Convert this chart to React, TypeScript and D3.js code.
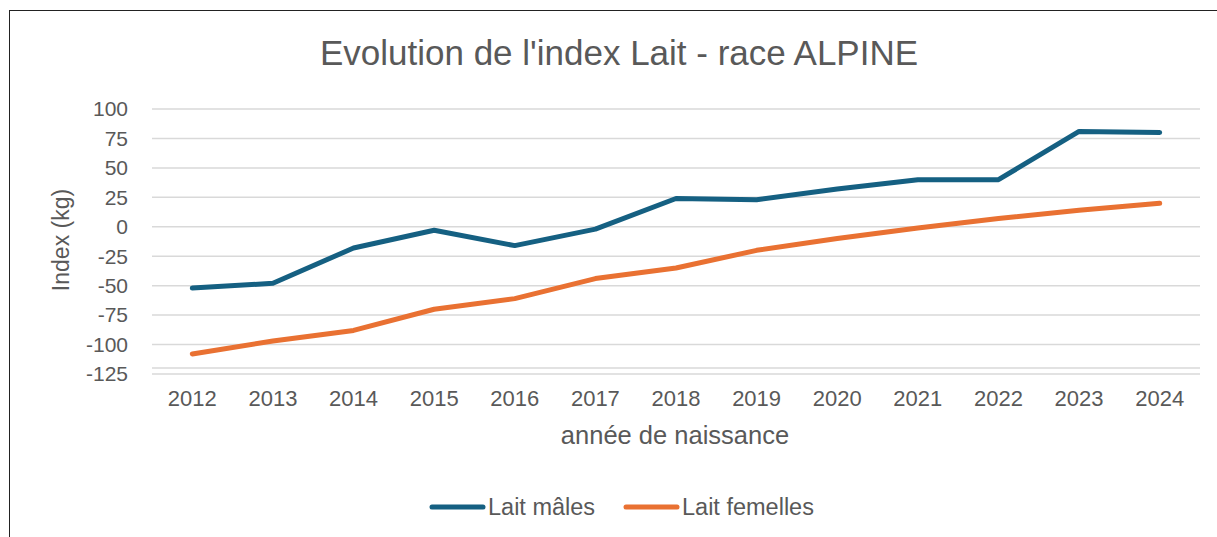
import * as d3 from "d3";

const years = ["2012", "2013", "2014", "2015", "2016", "2017", "2018", "2019", "2020", "2021", "2022", "2023", "2024"];
const laitMales = [-52, -48, -18, -3, -16, -2, 24, 23, 32, 40, 40, 81, 80];
const laitFemelles = [-108, -97, -88, -70, -61, -44, -35, -20, -10, -1, 7, 14, 20];
const yTicks = [100, 75, 50, 25, 0, -25, -50, -75, -100, -125];
const axisCross = -120;

const seriesList = [
  { name: "Lait mâles", values: laitMales, color: "#156082" },
  { name: "Lait femelles", values: laitFemelles, color: "#E97132" },
];

const width = 1217;
const height = 537;
const marginLeft = 152;
const marginRight = 17;
const font = "'Liberation Sans', Arial, sans-serif";
const textColor = "#595959";

export default function App() {
  const x = d3.scaleBand<string>().domain(years).range([marginLeft, width - marginRight]);
  const y = d3.scaleLinear().domain([-125, 100]).range([374, 109]);

  const line = d3
    .line<number>()
    .x((d, i) => x(years[i])! + x.bandwidth() / 2)
    .y((d) => y(d));

  return (
    <svg
      width={width}
      height={height}
      style={{ position: "absolute", left: 0, top: 0, background: "#fff" }}
      fontFamily={font}
    >
      {/* chart frame */}
      <line x1={9} x2={width} y1={10.5} y2={10.5} stroke="#222" strokeWidth={1} />
      <line x1={9.5} x2={9.5} y1={10} y2={height} stroke="#222" strokeWidth={1} />

      <text x={619} y={65} textAnchor="middle" fontSize={35} fill={textColor}>
        Evolution de l'index Lait - race ALPINE
      </text>

      {/* gridlines */}
      {yTicks.map((t) => (
        <g key={t}>
          <line x1={marginLeft} x2={width - marginRight} y1={y(t)} y2={y(t)} stroke="#d9d9d9" strokeWidth={1.5} />
          <text x={128} y={y(t)} dy="0.35em" textAnchor="end" fontSize={21} fill={textColor}>
            {t}
          </text>
        </g>
      ))}
      <line
        x1={marginLeft}
        x2={width - marginRight}
        y1={y(axisCross)}
        y2={y(axisCross)}
        stroke="#d9d9d9"
        strokeWidth={1.5}
      />

      {years.map((yr) => (
        <text
          key={yr}
          x={x(yr)! + x.bandwidth() / 2}
          y={406}
          textAnchor="middle"
          fontSize={22}
          fill={textColor}
        >
          {yr}
        </text>
      ))}

      <text x={675} y={444} textAnchor="middle" fontSize={25.5} fill={textColor}>
        année de naissance
      </text>
      <text
        transform="translate(69,240) rotate(-90)"
        textAnchor="middle"
        fontSize={23}
        fill={textColor}
      >
        Index (kg)
      </text>

      {seriesList.map((s) => (
        <path
          key={s.name}
          d={line(s.values)!}
          fill="none"
          stroke={s.color}
          strokeWidth={5}
          strokeLinecap="round"
          strokeLinejoin="round"
        />
      ))}

      {/* legend */}
      {seriesList.map((s, i) => {
        const lx = 432 + i * 194;
        return (
          <g key={s.name}>
            <line x1={lx} x2={lx + 51} y1={507} y2={507} stroke={s.color} strokeWidth={5} strokeLinecap="round" />
            <text x={lx + 56} y={507} dy="0.35em" fontSize={23.5} fill={textColor}>
              {s.name}
            </text>
          </g>
        );
      })}
    </svg>
  );
}
